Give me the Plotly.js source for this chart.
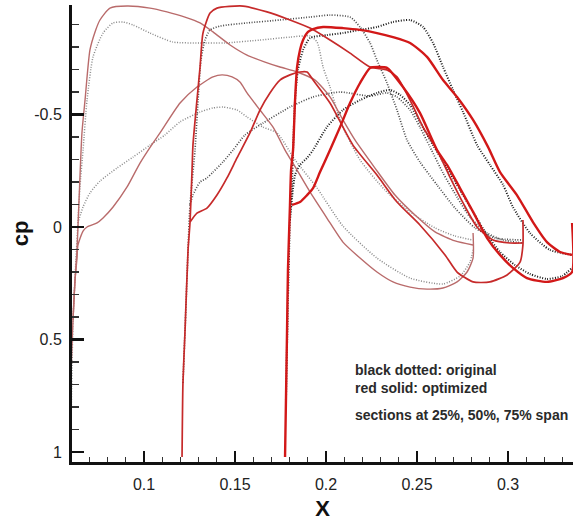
<!DOCTYPE html>
<html><head><meta charset="utf-8">
<script src="https://cdn.plot.ly/plotly-3.0.1.min.js"></script>
<style>html,body{margin:0;padding:0;background:#fff;} #chart{width:574px;height:523px;}</style>
</head><body><div id="chart"></div>
<script>
// ---- Section 1 (25% span) ----
const s1OptUpperX = [0.0597,0.0599,0.0610,0.0621,0.0632,0.0643,0.0659,0.0676,0.0703,0.0731,0.0758,0.0813,0.0907,0.1033,0.1126,0.1225,0.1308,0.1379,0.1473,0.1566,0.1665,0.1747,0.1841,0.1940,0.2022,0.2093,0.2159,0.2269,0.2379,0.2489,0.2599,0.2709,0.2808];
const s1OptUpperCp = [1.000,0.667,0.413,0.236,0.102,-0.120,-0.418,-0.564,-0.787,-0.867,-0.920,-0.973,-0.982,-0.973,-0.956,-0.933,-0.907,-0.867,-0.809,-0.764,-0.733,-0.711,-0.689,-0.653,-0.578,-0.476,-0.387,-0.262,-0.142,-0.053,0.022,0.062,0.080];
const s1OptLowerX = [0.0610,0.0621,0.0632,0.0637,0.0665,0.0687,0.0742,0.0775,0.0830,0.0907,0.0978,0.1049,0.1088,0.1198,0.1291,0.1379,0.1429,0.1484,0.1527,0.1566,0.1637,0.1709,0.1775,0.1841,0.1912,0.2005,0.2093,0.2187,0.2280,0.2368,0.2462,0.2555,0.2643,0.2720,0.2775,0.2808,0.2808];
const s1OptLowerCp = [0.413,0.236,0.138,0.080,0.018,0.000,-0.018,-0.040,-0.089,-0.178,-0.284,-0.373,-0.418,-0.551,-0.622,-0.667,-0.676,-0.667,-0.644,-0.596,-0.520,-0.444,-0.342,-0.253,-0.156,-0.040,0.067,0.138,0.200,0.244,0.267,0.276,0.271,0.244,0.200,0.138,0.027];
const s1OrigUpperX = [0.0597,0.0610,0.0626,0.0637,0.0648,0.0665,0.0687,0.0720,0.0775,0.0830,0.0885,0.0940,0.1033,0.1159,0.1308,0.1445,0.1637,0.1802,0.1912,0.1951,0.1984,0.2022,0.2060,0.2093,0.2187,0.2324,0.2462,0.2599,0.2709,0.2808];
const s1OrigUpperCp = [1.000,0.413,0.147,-0.018,-0.178,-0.342,-0.564,-0.756,-0.862,-0.907,-0.911,-0.898,-0.862,-0.822,-0.818,-0.818,-0.831,-0.844,-0.849,-0.822,-0.711,-0.622,-0.520,-0.444,-0.298,-0.164,-0.067,0.004,0.040,0.058];
const s1OrigLowerX = [0.0637,0.0665,0.0703,0.0758,0.0852,0.0940,0.1033,0.1115,0.1198,0.1308,0.1379,0.1434,0.1511,0.1566,0.1654,0.1731,0.1830,0.1951,0.2093,0.2280,0.2462,0.2643,0.2736,0.2791,0.2808];
const s1OrigLowerCp = [-0.018,-0.089,-0.151,-0.204,-0.262,-0.311,-0.364,-0.409,-0.467,-0.511,-0.529,-0.533,-0.520,-0.489,-0.444,-0.418,-0.298,-0.173,-0.004,0.138,0.227,0.253,0.218,0.156,0.102];

// ---- Section 2 (50% span) ----
const s2OptUpperX = [0.1209,0.1214,0.1225,0.1242,0.1253,0.1264,0.1269,0.1291,0.1308,0.1324,0.1363,0.1401,0.1544,0.1676,0.1802,0.1912,0.2022,0.2132,0.2242,0.2335,0.2390,0.2462,0.2533,0.2610,0.2681,0.2753,0.2830,0.2918,0.3011,0.3082];
const s2OptUpperCp = [1.022,0.693,0.471,0.102,-0.022,-0.253,-0.364,-0.564,-0.711,-0.862,-0.951,-0.973,-0.982,-0.956,-0.920,-0.884,-0.831,-0.773,-0.711,-0.698,-0.667,-0.564,-0.444,-0.342,-0.222,-0.107,0.000,0.058,0.071,0.071];
const s2OptLowerX = [0.1253,0.1291,0.1346,0.1401,0.1456,0.1511,0.1582,0.1637,0.1692,0.1747,0.1802,0.1857,0.1896,0.1929,0.2022,0.2148,0.2280,0.2390,0.2516,0.2654,0.2720,0.2808,0.2901,0.2995,0.3066,0.3082,0.3082];
const s2OptLowerCp = [-0.022,-0.062,-0.084,-0.142,-0.218,-0.307,-0.418,-0.520,-0.596,-0.653,-0.676,-0.689,-0.689,-0.653,-0.551,-0.364,-0.231,-0.111,-0.009,0.124,0.200,0.244,0.244,0.213,0.156,0.080,-0.031];
const s2OrigUpperX = [0.1214,0.1225,0.1242,0.1253,0.1280,0.1297,0.1313,0.1335,0.1363,0.1418,0.1566,0.1747,0.1912,0.2022,0.2132,0.2187,0.2242,0.2280,0.2335,0.2390,0.2445,0.2516,0.2610,0.2709,0.2819,0.2929,0.3082];
const s2OrigUpperCp = [0.693,0.471,0.102,-0.098,-0.342,-0.564,-0.742,-0.831,-0.876,-0.893,-0.907,-0.920,-0.933,-0.942,-0.933,-0.889,-0.818,-0.742,-0.640,-0.520,-0.387,-0.289,-0.187,-0.084,0.004,0.049,0.058];
const s2OrigLowerX = [0.1253,0.1269,0.1308,0.1346,0.1379,0.1434,0.1489,0.1555,0.1654,0.1802,0.1929,0.2077,0.2242,0.2335,0.2390,0.2462,0.2516,0.2571,0.2643,0.2720,0.2791,0.2885,0.2973,0.3082];
const s2OrigLowerCp = [-0.098,-0.142,-0.200,-0.218,-0.244,-0.289,-0.342,-0.409,-0.462,-0.533,-0.578,-0.600,-0.582,-0.596,-0.578,-0.520,-0.444,-0.356,-0.240,-0.133,-0.044,0.027,0.058,0.071];

// ---- Section 3 (75% span) ----
const s3OptUpperX = [0.1775,0.1780,0.1786,0.1791,0.1802,0.1808,0.1819,0.1830,0.1841,0.1857,0.1874,0.1901,0.1929,0.1984,0.2093,0.2187,0.2280,0.2368,0.2462,0.2555,0.2643,0.2720,0.2808,0.2890,0.2956,0.3049,0.3137,0.3214,0.3286,0.3352];
const s3OptUpperCp = [1.022,0.769,0.458,0.191,-0.098,-0.253,-0.342,-0.564,-0.711,-0.787,-0.831,-0.867,-0.880,-0.889,-0.884,-0.876,-0.862,-0.844,-0.818,-0.756,-0.653,-0.578,-0.476,-0.356,-0.244,-0.142,-0.022,0.067,0.111,0.124];
const s3OptLowerX = [0.1813,0.1857,0.1896,0.1929,0.1967,0.2022,0.2077,0.2132,0.2187,0.2242,0.2286,0.2335,0.2423,0.2516,0.2610,0.2665,0.2736,0.2808,0.2885,0.2956,0.3027,0.3104,0.3214,0.3302,0.3352,0.3352];
const s3OptLowerCp = [-0.098,-0.111,-0.142,-0.173,-0.244,-0.342,-0.444,-0.551,-0.640,-0.707,-0.711,-0.707,-0.622,-0.507,-0.342,-0.276,-0.173,-0.067,0.049,0.124,0.182,0.227,0.244,0.227,0.200,-0.018];
const s3OrigUpperX = [0.1780,0.1791,0.1802,0.1813,0.1819,0.1830,0.1846,0.1874,0.1912,0.2005,0.2093,0.2187,0.2280,0.2368,0.2462,0.2533,0.2588,0.2643,0.2698,0.2753,0.2830,0.2901,0.2973,0.3027,0.3121,0.3231,0.3352];
const s3OrigUpperCp = [0.769,0.324,-0.031,-0.187,-0.342,-0.564,-0.698,-0.787,-0.840,-0.853,-0.862,-0.876,-0.889,-0.911,-0.920,-0.889,-0.818,-0.711,-0.609,-0.511,-0.364,-0.276,-0.187,-0.089,0.027,0.102,0.124];
const s3OrigLowerX = [0.1802,0.1830,0.1857,0.1896,0.1929,0.2005,0.2093,0.2187,0.2280,0.2352,0.2407,0.2462,0.2516,0.2588,0.2665,0.2736,0.2808,0.2885,0.2956,0.3038,0.3121,0.3214,0.3297,0.3352];
const s3OrigLowerCp = [-0.031,-0.231,-0.276,-0.307,-0.342,-0.444,-0.520,-0.564,-0.596,-0.609,-0.587,-0.542,-0.467,-0.364,-0.262,-0.164,-0.067,0.036,0.111,0.169,0.209,0.231,0.218,0.182];

// ---- Axis ticks ----
const xTickVals = [0.1, 0.15, 0.2, 0.25, 0.3];
const xTickText = ['0.1', '0.15', '0.2', '0.25', '0.3'];
const yTickVals = [-0.5, 0, 0.5, 1];
const yTickText = ['-0.5', '0', '0.5', '1'];

const legendNote = 'black dotted: original<br>red solid: optimized';
const spanNote = 'sections at 25%, 50%, 75% span';

function curve(x, y, color, width, dash) {
  return {type: 'scatter', mode: 'lines', x: x, y: y, hoverinfo: 'skip', showlegend: false,
          line: {color: color, width: width, dash: dash, shape: 'spline', smoothing: 0.6}};
}

const dotted = '1px,1.6px';
const traces = [
  curve(s1OrigUpperX, s1OrigUpperCp, '#8a8a8a', 1.5, dotted),
  curve(s1OrigLowerX, s1OrigLowerCp, '#8a8a8a', 1.5, dotted),
  curve(s2OrigUpperX, s2OrigUpperCp, '#4a4a4a', 1.7, dotted),
  curve(s2OrigLowerX, s2OrigLowerCp, '#4a4a4a', 1.7, dotted),
  curve(s3OrigUpperX, s3OrigUpperCp, '#1a1a1a', 2.0, dotted),
  curve(s3OrigLowerX, s3OrigLowerCp, '#1a1a1a', 2.0, dotted),
  curve(s1OptUpperX, s1OptUpperCp, '#b96b6b', 1.4, 'solid'),
  curve(s1OptLowerX, s1OptLowerCp, '#b96b6b', 1.4, 'solid'),
  curve(s2OptUpperX, s2OptUpperCp, '#c62a2a', 1.7, 'solid'),
  curve(s2OptLowerX, s2OptLowerCp, '#c62a2a', 1.7, 'solid'),
  curve(s3OptUpperX, s3OptUpperCp, '#d21818', 2.4, 'solid'),
  curve(s3OptLowerX, s3OptLowerCp, '#d21818', 2.4, 'solid')
];

const noteFont = {family: 'Liberation Sans, Arial, sans-serif', size: 14, color: '#2a2a2a'};
const annotations = [
  {x: 0.2148, y: 0.676, xref: 'x', yref: 'y', xanchor: 'left', yanchor: 'middle', align: 'left',
   text: '<b>' + legendNote.split('<br>').join('</b><br><b>') + '</b>', showarrow: false, font: noteFont},
  {x: 0.2148, y: 0.836, xref: 'x', yref: 'y', xanchor: 'left', yanchor: 'middle', align: 'left',
   text: '<b>' + spanNote + '</b>', showarrow: false, font: noteFont}
];

const axisCommon = {
  showline: true, linecolor: '#111', linewidth: 3, mirror: false,
  showgrid: false, zeroline: false,
  ticks: 'inside', tickcolor: '#111', tickwidth: 2.5, ticklen: 11,
  tickfont: {family: 'Liberation Sans, Arial, sans-serif', size: 16, color: '#222'},
  tickmode: 'array'
};

const layout = {
  width: 574, height: 523,
  margin: {l: 72, r: 1, t: 5, b: 61},
  paper_bgcolor: '#ffffff', plot_bgcolor: '#ffffff',
  showlegend: false,
  font: {family: 'Liberation Sans, Arial, sans-serif', color: '#222'},
  xaxis: Object.assign({}, axisCommon, {
    range: [0.06044, 0.33571],
    tickvals: xTickVals, ticktext: xTickText,
    ticklabelstandoff: 6,
    minor: {tickmode: 'linear', tick0: 0, dtick: 0.01, ticks: 'inside', ticklen: 5, tickwidth: 1.2, tickcolor: '#333', showgrid: false},
    title: {text: '<b>X</b>', font: {family: 'Liberation Sans, Arial, sans-serif', size: 22, color: '#111'}, standoff: 9}
  }),
  yaxis: Object.assign({}, axisCommon, {
    range: [1.0444, -0.9867],
    tickvals: yTickVals, ticktext: yTickText,
    ticklabelstandoff: 4,
    ticklen: 12,
    minor: {tickmode: 'linear', tick0: 0, dtick: 0.1, ticks: 'inside', ticklen: 7, tickwidth: 1.4, tickcolor: '#333', showgrid: false},
    title: {text: '<b>cp</b>', font: {family: 'Liberation Sans, Arial, sans-serif', size: 22, color: '#111'}, standoff: 0}
  }),
  annotations: annotations
};

Plotly.newPlot('chart', traces, layout, {displayModeBar: false, staticPlot: true});
</script></body></html>
